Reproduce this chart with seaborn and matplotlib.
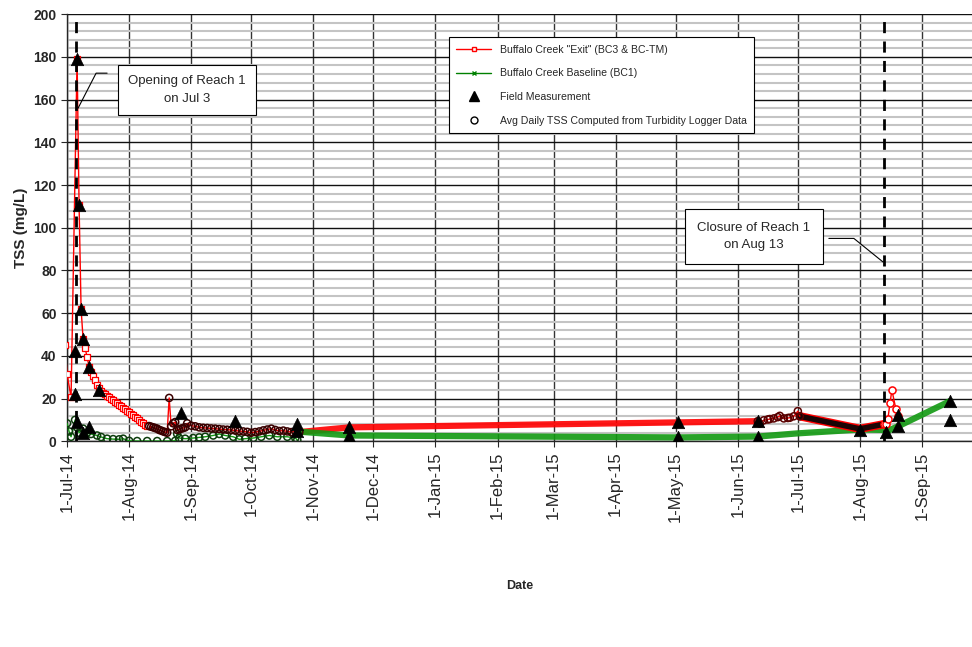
import pandas as pd
import numpy as np
import seaborn as sns
import matplotlib
matplotlib.use("Agg")
import matplotlib.pyplot as plt
import matplotlib.dates as mdates
from matplotlib.ticker import MultipleLocator, FuncFormatter
from matplotlib.lines import Line2D


# ------------------------------------------------------------------------------
# 1) Data
# ------------------------------------------------------------------------------

# Buffalo Creek "Exit" - early grab samples (red squares)
exit_sq_dates = ["2014-06-30", "2014-07-01", "2014-07-03", "2014-07-06", "2014-07-07", "2014-07-08",
                 "2014-07-09", "2014-07-10", "2014-07-11", "2014-07-12", "2014-07-13", "2014-07-14",
                 "2014-07-15", "2014-07-16", "2014-07-17", "2014-07-18", "2014-07-19", "2014-07-20",
                 "2014-07-21", "2014-07-22", "2014-07-23", "2014-07-24", "2014-07-25", "2014-07-26",
                 "2014-07-27", "2014-07-28", "2014-07-29", "2014-07-30", "2014-07-31", "2014-08-01",
                 "2014-08-02", "2014-08-03", "2014-08-04", "2014-08-05", "2014-08-06", "2014-08-07",
                 "2014-08-08", "2014-08-09", "2014-08-10"]
exit_sq_vals = [45, 31.5, 20.5, 179, 110.5, 62,
                48, 43.7, 39.5, 35, 32.5, 30.5,
                28.5, 26.5, 25, 23.4, 22.7, 22.0,
                21.3, 20.6, 19.8, 19.1, 18.4, 17.7,
                17.0, 16.3, 15.6, 14.9, 14.2, 13.5,
                12.8, 12.1, 11.4, 10.7, 9.9, 9.2,
                8.5, 7.8, 7.1]

# Buffalo Creek "Exit" - logger derived 2014
exit_log14_dates = ["2014-08-11", "2014-08-12", "2014-08-13", "2014-08-14", "2014-08-15", "2014-08-16",
                    "2014-08-17", "2014-08-18", "2014-08-19", "2014-08-20", "2014-08-21", "2014-08-22",
                    "2014-08-23", "2014-08-24", "2014-08-25", "2014-08-26", "2014-08-27", "2014-08-28",
                    "2014-08-29", "2014-08-30", "2014-09-01", "2014-09-03", "2014-09-05", "2014-09-07",
                    "2014-09-09", "2014-09-11", "2014-09-13", "2014-09-15", "2014-09-17", "2014-09-19",
                    "2014-09-21", "2014-09-23", "2014-09-25", "2014-09-27", "2014-09-29", "2014-10-01",
                    "2014-10-03", "2014-10-05", "2014-10-07", "2014-10-09", "2014-10-11", "2014-10-13",
                    "2014-10-15", "2014-10-17", "2014-10-19", "2014-10-21", "2014-10-23", "2014-10-25"]
exit_log14_vals = [7.1, 6.8, 6.5, 6.2, 5.9, 5.3,
                   5.0, 4.6, 4.3, 4.0, 20.3, 7.0,
                   8.4, 9.0, 5.3, 5.6, 5.9, 6.2,
                   6.5, 8.4, 7.3, 7.0, 6.5, 6.3,
                   6.2, 6.0, 5.9, 5.7, 5.5, 5.4,
                   5.3, 5.0, 4.8, 4.6, 4.4, 4.0,
                   4.3, 4.6, 5.1, 5.5, 5.9, 5.3,
                   4.8, 5.0, 4.6, 4.3, 4.6, 4.3]

# Buffalo Creek "Exit" - sparse samples over the winter
exit_winter_dates = ["2014-10-25", "2014-11-19", "2015-06-11"]
exit_winter_vals = [4.3, 6.5, 9.4]

# Buffalo Creek "Exit" - logger derived 2015
exit_log15_dates = ["2015-06-11", "2015-06-12", "2015-06-14", "2015-06-16", "2015-06-17", "2015-06-19",
                    "2015-06-21", "2015-06-22", "2015-06-24", "2015-06-26", "2015-06-27", "2015-06-29",
                    "2015-07-01", "2015-07-02"]
exit_log15_vals = [9.4, 8.3, 9.8, 10.2, 10.4, 10.7,
                   11.3, 11.9, 10.7, 10.9, 11.0, 11.7,
                   14.1, 11.7]

exit_summer_dates = ["2015-07-02", "2015-08-01", "2015-08-13"]
exit_summer_vals = [11.7, 5.8, 8.0]

exit_late_dates = ["2015-08-13", "2015-08-14", "2015-08-15", "2015-08-16", "2015-08-17", "2015-08-19",
                   "2015-08-20"]
exit_late_vals = [8.0, 8.0, 10.4, 17.8, 23.9, 15.0, 11.7]

# Buffalo Creek Baseline (BC1) - logger derived 2014
base_log14_dates = ["2014-07-01", "2014-07-02", "2014-07-03", "2014-07-05", "2014-07-06", "2014-07-07",
                    "2014-07-09", "2014-07-11", "2014-07-13", "2014-07-16", "2014-07-18", "2014-07-21",
                    "2014-07-24", "2014-07-27", "2014-07-29", "2014-08-01", "2014-08-05", "2014-08-10",
                    "2014-08-15", "2014-08-20", "2014-08-24", "2014-08-25", "2014-08-26", "2014-08-29",
                    "2014-09-02", "2014-09-05", "2014-09-08", "2014-09-12", "2014-09-15", "2014-09-18",
                    "2014-09-22", "2014-09-25", "2014-09-28", "2014-10-02", "2014-10-06", "2014-10-10",
                    "2014-10-14", "2014-10-19", "2014-10-23", "2014-10-24"]
base_log14_vals = [8.4, 4.6, 2.1, 10.0, 6.5, 4.0,
                   5.9, 4.0, 3.4, 2.7, 2.0, 1.2,
                   1.0, 0.9, 1.2, 0.2, 0.1, 0.1,
                   0.1, 0.1, 0.2, 3.4, 1.5, 1.2,
                   1.5, 1.8, 2.1, 2.7, 3.4, 2.7,
                   2.1, 0.9, 1.2, 1.5, 2.1, 2.7,
                   2.1, 2.1, 1.5, 0.6]

base_rest_dates = ["2014-10-25", "2014-11-19", "2015-05-02", "2015-06-11", "2015-07-01", "2015-08-01",
                   "2015-08-14", "2015-08-15", "2015-08-21", "2015-09-15"]
base_rest_vals = [4.5, 2.7, 1.8, 2.2, 3.7, 5.5, 5.3, 4.9, 7.4, 18.8]

# Field measurements (triangles)
field_dates = ["2014-07-05", "2014-07-05", "2014-07-06", "2014-07-07", "2014-07-08", "2014-07-09",
               "2014-07-12", "2014-07-17", "2014-07-06", "2014-07-09", "2014-07-12", "2014-08-27",
               "2014-09-23", "2014-10-24", "2014-10-24", "2014-11-19", "2014-11-19", "2015-05-02",
               "2015-05-02", "2015-06-11", "2015-06-11", "2015-08-01", "2015-08-14", "2015-08-20",
               "2015-08-20", "2015-09-15", "2015-09-15"]
field_vals = [22, 42.5, 179, 110.5, 62, 48,
              35, 24, 9, 4, 6.5, 13.4,
              9.6, 8, 4.6, 6.5, 2.5, 9.2,
              1.8, 9.4, 2.2, 5.5, 4.5, 12.3,
              7, 18.8, 9.8]

opening_date = "2014-07-05 12:00"
closure_date = "2015-08-13"


def frame(dates, vals):
    return pd.DataFrame({"date": pd.to_datetime(dates), "tss": vals})


exit_sq = frame(exit_sq_dates, exit_sq_vals)
exit_log14 = frame(exit_log14_dates, exit_log14_vals)
exit_thin14 = pd.concat([exit_sq, exit_log14], ignore_index=True)
exit_winter = frame(exit_winter_dates, exit_winter_vals)
exit_log15 = frame(exit_log15_dates, exit_log15_vals)
exit_summer = frame(exit_summer_dates, exit_summer_vals)
exit_late = frame(exit_late_dates, exit_late_vals)
base_log14 = frame(base_log14_dates, base_log14_vals)
base_rest = frame(base_rest_dates, base_rest_vals)
field = frame(field_dates, field_vals)


# ------------------------------------------------------------------------------
# 2) Plot
# ------------------------------------------------------------------------------
sns.set_style("white")
plt.rcParams["font.family"] = ["Liberation Sans", "DejaVu Sans"]

fig = plt.figure(figsize=(9.72, 6.47), dpi=100)
ax = fig.add_axes([0.069, 0.318, 0.931, 0.660])

red = "#ff0000"
green = "#119911"
line_kw = dict(ax=ax, x="date", y="tss", estimator=None, sort=False, legend=False)

# thick bands (dense daily markers in the original)
sns.lineplot(data=exit_winter, color=red, lw=4.5, alpha=0.9, zorder=3, **line_kw)
sns.lineplot(data=base_rest, color=green, lw=4.5, alpha=0.9, zorder=3, **line_kw)
sns.lineplot(data=exit_summer, color=red, lw=6, zorder=3, **line_kw)
sns.lineplot(data=exit_summer, color="#1a0505", lw=4, zorder=3.1, **line_kw)

# thin lines
sns.lineplot(data=base_log14, color=green, lw=1, zorder=4, **line_kw)
sns.lineplot(data=exit_thin14, color=red, lw=1, zorder=4, **line_kw)
sns.lineplot(data=exit_log15, color=red, lw=1, zorder=4, **line_kw)
sns.lineplot(data=exit_late, color=red, lw=1, zorder=4, **line_kw)

# markers
sns.scatterplot(data=exit_sq, x="date", y="tss", ax=ax, marker="s", s=20, facecolor="white",
                edgecolor=red, linewidth=0.9, zorder=5, legend=False)
sns.scatterplot(data=base_log14, x="date", y="tss", ax=ax, marker="o", s=26, facecolor="none",
                edgecolor="#0d3d0d", linewidth=1.1, zorder=5, legend=False)
sns.scatterplot(data=exit_log14, x="date", y="tss", ax=ax, marker="o", s=26, facecolor="none",
                edgecolor="#3a0000", linewidth=1.1, zorder=5, legend=False)
sns.scatterplot(data=exit_log15, x="date", y="tss", ax=ax, marker="o", s=26, facecolor="none",
                edgecolor="#5a0000", linewidth=1.1, zorder=5, legend=False)
sns.scatterplot(data=exit_late, x="date", y="tss", ax=ax, marker="o", s=26, facecolor="white",
                edgecolor=red, linewidth=1.1, zorder=5, legend=False)
sns.scatterplot(data=field, x="date", y="tss", ax=ax, marker="^", s=80, color="black",
                edgecolor="black", linewidth=0.5, zorder=6, legend=False)

# opening / closure lines
for d in [opening_date, closure_date]:
    ax.axvline(pd.Timestamp(d), color="black", lw=2, ls=(0, (4, 3)), zorder=7)

ax.set_xlim(pd.Timestamp("2014-07-01"), pd.Timestamp("2015-09-26"))
ax.set_ylim(0, 200)

# annotations
t0 = pd.Timestamp("2014-07-01")
ax.text(t0 + pd.Timedelta(days=60), 164.5, "Opening of Reach 1\non Jul 3", ha="center", va="center",
        fontsize=9.5, zorder=8, linespacing=1.6,
        bbox=dict(boxstyle="square,pad=0.75", facecolor="white", edgecolor="black", lw=0.8))
ax.plot([t0 + pd.Timedelta(days=20), t0 + pd.Timedelta(days=14.5), t0 + pd.Timedelta(days=5.5)],
        [172.4, 172.4, 156], color="black", lw=0.8, zorder=8)
ax.text(t0 + pd.Timedelta(days=343), 96, "Closure of Reach 1\non Aug 13", ha="center", va="center",
        fontsize=9.5, zorder=8, linespacing=1.6,
        bbox=dict(boxstyle="square,pad=0.95", facecolor="white", edgecolor="black", lw=0.8))
ax.plot([t0 + pd.Timedelta(days=380.5), t0 + pd.Timedelta(days=393), t0 + pd.Timedelta(days=407.5)],
        [95, 95, 84], color="black", lw=0.8, zorder=8)

# axes, ticks and grid
ax.yaxis.set_major_locator(MultipleLocator(20))
ax.yaxis.set_minor_locator(MultipleLocator(4))
ax.xaxis.set_major_locator(mdates.MonthLocator())
ax.xaxis.set_major_formatter(FuncFormatter(
    lambda v, pos: f"{mdates.num2date(v).day}-{mdates.num2date(v).strftime('%b-%y')}"))
ax.tick_params(axis="x", rotation=90, labelsize=12, length=4, width=0.8, direction="out", bottom=True)
ax.tick_params(axis="y", labelsize=10, length=4, width=0.8, direction="out", left=True)
ax.tick_params(which="minor", length=0)
for lab in ax.get_yticklabels():
    lab.set_fontweight("bold")

ax.set_axisbelow(True)
ax.grid(which="minor", axis="y", color="#c4c4c4", lw=1.5)
ax.grid(which="major", axis="y", color="#111111", lw=1)
ax.grid(which="major", axis="x", color="#333333", lw=1)

ax.spines["top"].set_visible(False)
ax.spines["right"].set_visible(False)
ax.spines["left"].set_linewidth(1)
ax.spines["bottom"].set_linewidth(1)

ax.set_xlabel("Date", fontsize=9, fontweight="bold")
ax.set_ylabel("TSS (mg/L)", fontsize=11, fontweight="bold")
ax.xaxis.set_label_coords(0.5, -0.325)
ax.yaxis.set_label_coords(-0.043, 0.5)

# legend
handles = [
    Line2D([], [], color=red, lw=1, marker="s", ms=3.5, mfc="white", mec=red),
    Line2D([], [], color="green", lw=1, marker="x", ms=3.5, mec="green"),
    Line2D([], [], color="none", marker="^", ms=7, mfc="black", mec="black"),
    Line2D([], [], color="none", marker="o", ms=5, mfc="white", mec="black"),
]
labels = ['Buffalo Creek "Exit" (BC3 & BC-TM)', "Buffalo Creek Baseline (BC1)",
          "Field Measurement", "Avg Daily TSS Computed from Turbidity Logger Data"]
leg = ax.legend(handles, labels, loc="upper left", bbox_to_anchor=(0.422, 0.946), fontsize=7.6,
                frameon=True, fancybox=False, framealpha=1, edgecolor="black", borderaxespad=0,
                handlelength=3.3, labelspacing=1.3, borderpad=0.7)
leg.get_frame().set_linewidth(0.8)
leg.set_zorder(9)

fig.savefig("out.png", dpi=100)
